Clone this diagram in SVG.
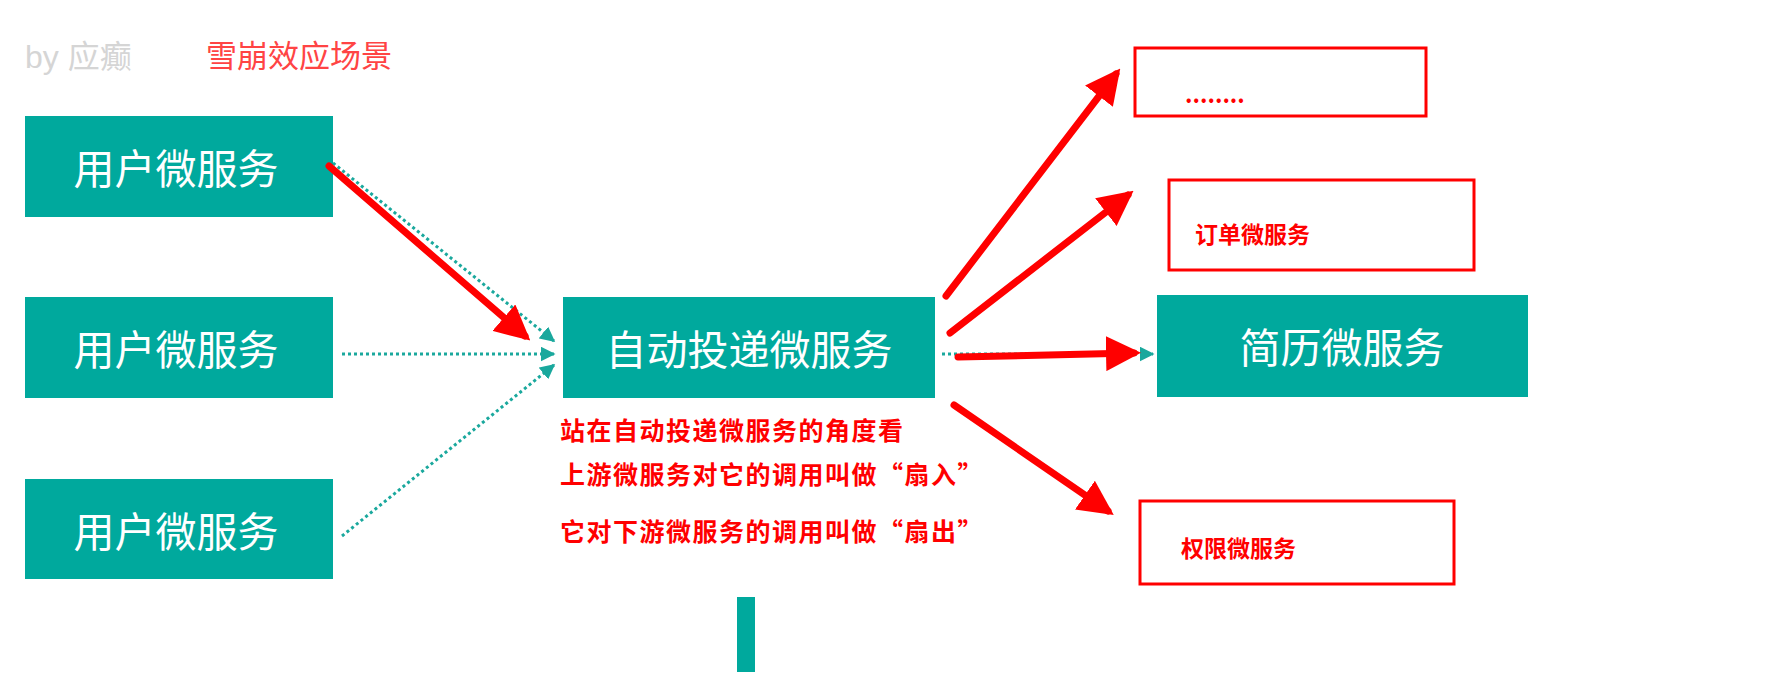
<svg xmlns="http://www.w3.org/2000/svg" width="1790" height="686" viewBox="0 0 1790 686">
<style>
.box{fill:#00a99d}
.bt{fill:#fff;font-family:"Noto Sans CJK SC",sans-serif;font-size:41px;text-anchor:middle;dominant-baseline:central}
.rb{fill:none;stroke:#f00;stroke-width:3}
.rt{fill:#f00;font-family:"Noto Sans CJK SC",sans-serif;font-size:23px;font-weight:bold}
.note{fill:#f00;font-family:"Noto Sans CJK SC",sans-serif;font-size:25px;font-weight:bold;letter-spacing:1.5px}
.dot{stroke:#1aa89d;stroke-width:3;stroke-dasharray:3 3;fill:none}
.red{stroke:#f00;stroke-width:7;stroke-linecap:round;fill:none}
</style>
<defs>
<marker id="ta" viewBox="0 0 10 10" refX="9" refY="5" markerWidth="5" markerHeight="5" orient="auto"><path d="M0,0L10,5L0,10z" fill="#1aa89d"/></marker>
<marker id="ra" viewBox="0 0 10 10" refX="8" refY="5" markerWidth="5" markerHeight="5" orient="auto"><path d="M0,0L10,5L0,10z" fill="#f00"/></marker>
</defs>
<rect width="1790" height="686" fill="#fff"/>
<text x="25" y="68" font-family="Liberation Sans,Noto Sans CJK SC,sans-serif" font-size="32" fill="#d5d5d5">by 应癫</text>
<text x="206" y="67" font-family="Noto Sans CJK SC,sans-serif" font-size="31" fill="#f44">雪崩效应场景</text>
<g id="u1"><rect class="box" x="25" y="116" width="308" height="101"/><text class="bt" x="176" y="166">用户微服务</text></g>
<g id="u2"><rect class="box" x="25" y="297" width="308" height="101"/><text class="bt" x="176" y="347">用户微服务</text></g>
<g id="u3"><rect class="box" x="25" y="479" width="308" height="100"/><text class="bt" x="176" y="529">用户微服务</text></g>
<g id="center"><rect class="box" x="563" y="297" width="372" height="101"/><text class="bt" x="749" y="347">自动投递微服务</text></g>
<g id="resume"><rect class="box" x="1157" y="295" width="371" height="102"/><text class="bt" x="1342" y="345">简历微服务</text></g>
<g id="more"><rect class="rb" x="1135" y="48" width="291" height="68"/><text class="rt" x="1185" y="103" font-size="18">........</text></g>
<g id="order"><rect class="rb" x="1169" y="180" width="305" height="90"/><text class="rt" x="1195" y="243">订单微服务</text></g>
<g id="auth"><rect class="rb" x="1140" y="501" width="314" height="83"/><text class="rt" x="1181" y="557">权限微服务</text></g>
<g id="notes">
<text class="note" x="560" y="440">站在自动投递微服务的角度看</text>
<text class="note" x="560" y="484">上游微服务对它的调用叫做“扇入”</text>
<text class="note" x="560" y="541">它对下游微服务的调用叫做“扇出”</text>
</g>
<rect class="box" x="737" y="597" width="18" height="75"/>
<g id="connectors">
<line class="dot" x1="333" y1="163" x2="554" y2="341" marker-end="url(#ta)"/>
<line class="dot" x1="342" y1="354" x2="554" y2="354" marker-end="url(#ta)"/>
<line class="dot" x1="342" y1="536" x2="554" y2="365" marker-end="url(#ta)"/>
<line class="dot" x1="942" y1="354" x2="1153" y2="354" marker-end="url(#ta)"/>
<line class="red" x1="329" y1="166" x2="525" y2="336" marker-end="url(#ra)"/>
<line class="red" x1="946" y1="296" x2="1116" y2="74" marker-end="url(#ra)"/>
<line class="red" x1="950" y1="333" x2="1128" y2="195" marker-end="url(#ra)"/>
<line class="red" x1="958" y1="357" x2="1134" y2="353" marker-end="url(#ra)"/>
<line class="red" x1="954" y1="405" x2="1108" y2="511" marker-end="url(#ra)"/>
</g>
</svg>
